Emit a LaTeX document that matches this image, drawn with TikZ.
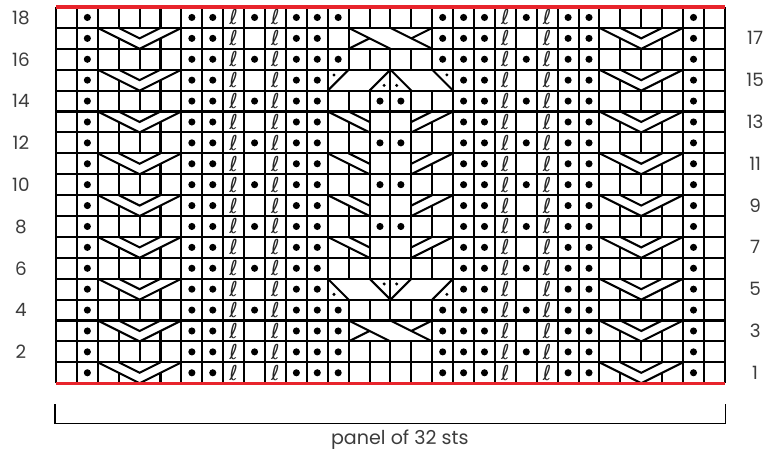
\documentclass[tikz,border=0pt]{standalone}
\usepackage{fontspec}
\setmainfont{Poppins}
\newfontfamily\loopfont{DejaVu Sans}
\usetikzlibrary{positioning}
\definecolor{chartred}{RGB}{232,36,44}
\definecolor{labelgray}{RGB}{60,60,60}

\begin{document}
\begin{tikzpicture}[x=0.5cm, y=0.5cm,
    grid/.style={line width=1.4pt, black},
    cable/.style={line width=1.4pt, draw=black, fill=white},
    edge/.style={line width=2.2pt, chartred},
    rowlabel/.style={font=\fontsize{12.5}{14}\selectfont, text=labelgray},
    twisted/.style={inner sep=0pt, text=black!85, font=\loopfont\fontsize{14}{14}\selectfont}]
    \useasboundingbox (-2.68,-3.29) rectangle (34.16,18.335);
    % chart grid
    \draw[grid, step=1] (0,0) grid (32,18);
    % purl stitches
    \foreach \c in {1,6,7,11,12,19,20,24,25,30}
        \foreach \r in {1,...,18}
            \fill (\c+0.5,\r-0.5) circle (0.17);
    \foreach \c in {9,22}
        \foreach \r in {2,4,...,18}
            \fill (\c+0.5,\r-0.5) circle (0.17);
    \foreach \r in {1,2,3,4,16,18}
        \fill (13.5,\r-0.5) circle (0.17);
    \foreach \r in {1,2,3,4,16,17,18}
        \fill (18.5,\r-0.5) circle (0.17);
    \foreach \c in {15,16}
        \foreach \r in {8,10,12,14}
            \fill (\c+0.5,\r-0.5) circle (0.17);
    % twisted stitches
    \foreach \c in {8,10,21,23}
        \foreach \r in {1,...,18}
            \node[twisted] (tw-\c-\r) at (\c+0.5,\r-0.5) {ℓ};
    % V cables
    \foreach \xa in {2,26}
        \foreach \r in {1,3,...,17} {
            \filldraw[cable] (\xa,\r-1) rectangle ++(4,1);
            \draw[grid] (\xa,\r) -- (\xa+2,\r-1) -- (\xa+4,\r);
            \draw[grid] (\xa+1,\r) -- (\xa+2,\r-0.5) -- (\xa+3,\r);
            \draw[grid] (\xa+1,\r-0.5) -- (\xa+1,\r-1);
            \draw[grid] (\xa+3,\r-0.5) -- (\xa+3,\r-1);
        }
    % centre crosses
    \foreach \r in {3,17} {
        \filldraw[cable] (14,\r-1) rectangle (18,\r);
        \draw[grid] (14,\r) -- (16,\r-1);
        \draw[grid] (16,\r) -- (18,\r-1);
        \draw[grid] (14,\r-1) -- (15,\r-0.5);
        \draw[grid] (17,\r-0.5) -- (18,\r);
    }
    % splits
    \filldraw[cable] (13,14) rectangle (19,15);
    \draw[grid] (13,14) -- (14,15);
    \draw[grid] (15,14) -- (16,15) -- (17,14);
    \draw[grid] (19,14) -- (18,15);
    \draw[grid] (16,14) -- (16,15);
    \foreach \p in {(13.3,14.75),(15.7,14.25),(16.3,14.25),(18.7,14.75)}
        \fill \p circle (0.08);
    \filldraw[cable] (13,4) rectangle (19,5);
    \draw[grid] (14,4) -- (13,5);
    \draw[grid] (15,5) -- (16,4) -- (17,5);
    \draw[grid] (18,4) -- (19,5);
    \draw[grid] (16,4) -- (16,5);
    \foreach \p in {(13.3,4.25),(15.7,4.75),(16.3,4.75),(18.7,4.25)}
        \fill \p circle (0.08);
    % side twists
    \foreach \r in {7,9,11,13} {
        \filldraw[cable] (13,\r-1) rectangle (15,\r);
        \filldraw[cable] (17,\r-1) rectangle (19,\r);
        \draw[grid] (13,\r) -- (15,\r-1);
        \draw[grid] (14,\r) -- (15,\r-0.5);
        \draw[grid] (14,\r-0.5) -- (14,\r-1);
        \draw[grid] (19,\r) -- (17,\r-1);
        \draw[grid] (18,\r) -- (17,\r-0.5);
        \draw[grid] (18,\r-0.5) -- (18,\r-1);
    }
    % top and bottom edges
    \draw[edge] (0,18) -- (32,18);
    \draw[edge] (0,0) -- (32,0);
    % row numbers
    \foreach \r in {2,4,...,18}
        \node[rowlabel] (left-\r) at (-1.68,\r-0.5) {\r};
    \foreach \r in {1,3,...,17}
        \node[rowlabel] (right-\r) at (33.45,\r-0.5) {\r};
    % panel bracket
    \draw[line width=1pt] (-0.05,-1) -- (-0.05,-1.92) -- (32.02,-1.92) -- (32.02,-1);
    \node[rowlabel, font=\fontsize{13}{14}\selectfont] (panel) at (16.45,-2.72) {panel of 32 sts};
\end{tikzpicture}
\end{document}
